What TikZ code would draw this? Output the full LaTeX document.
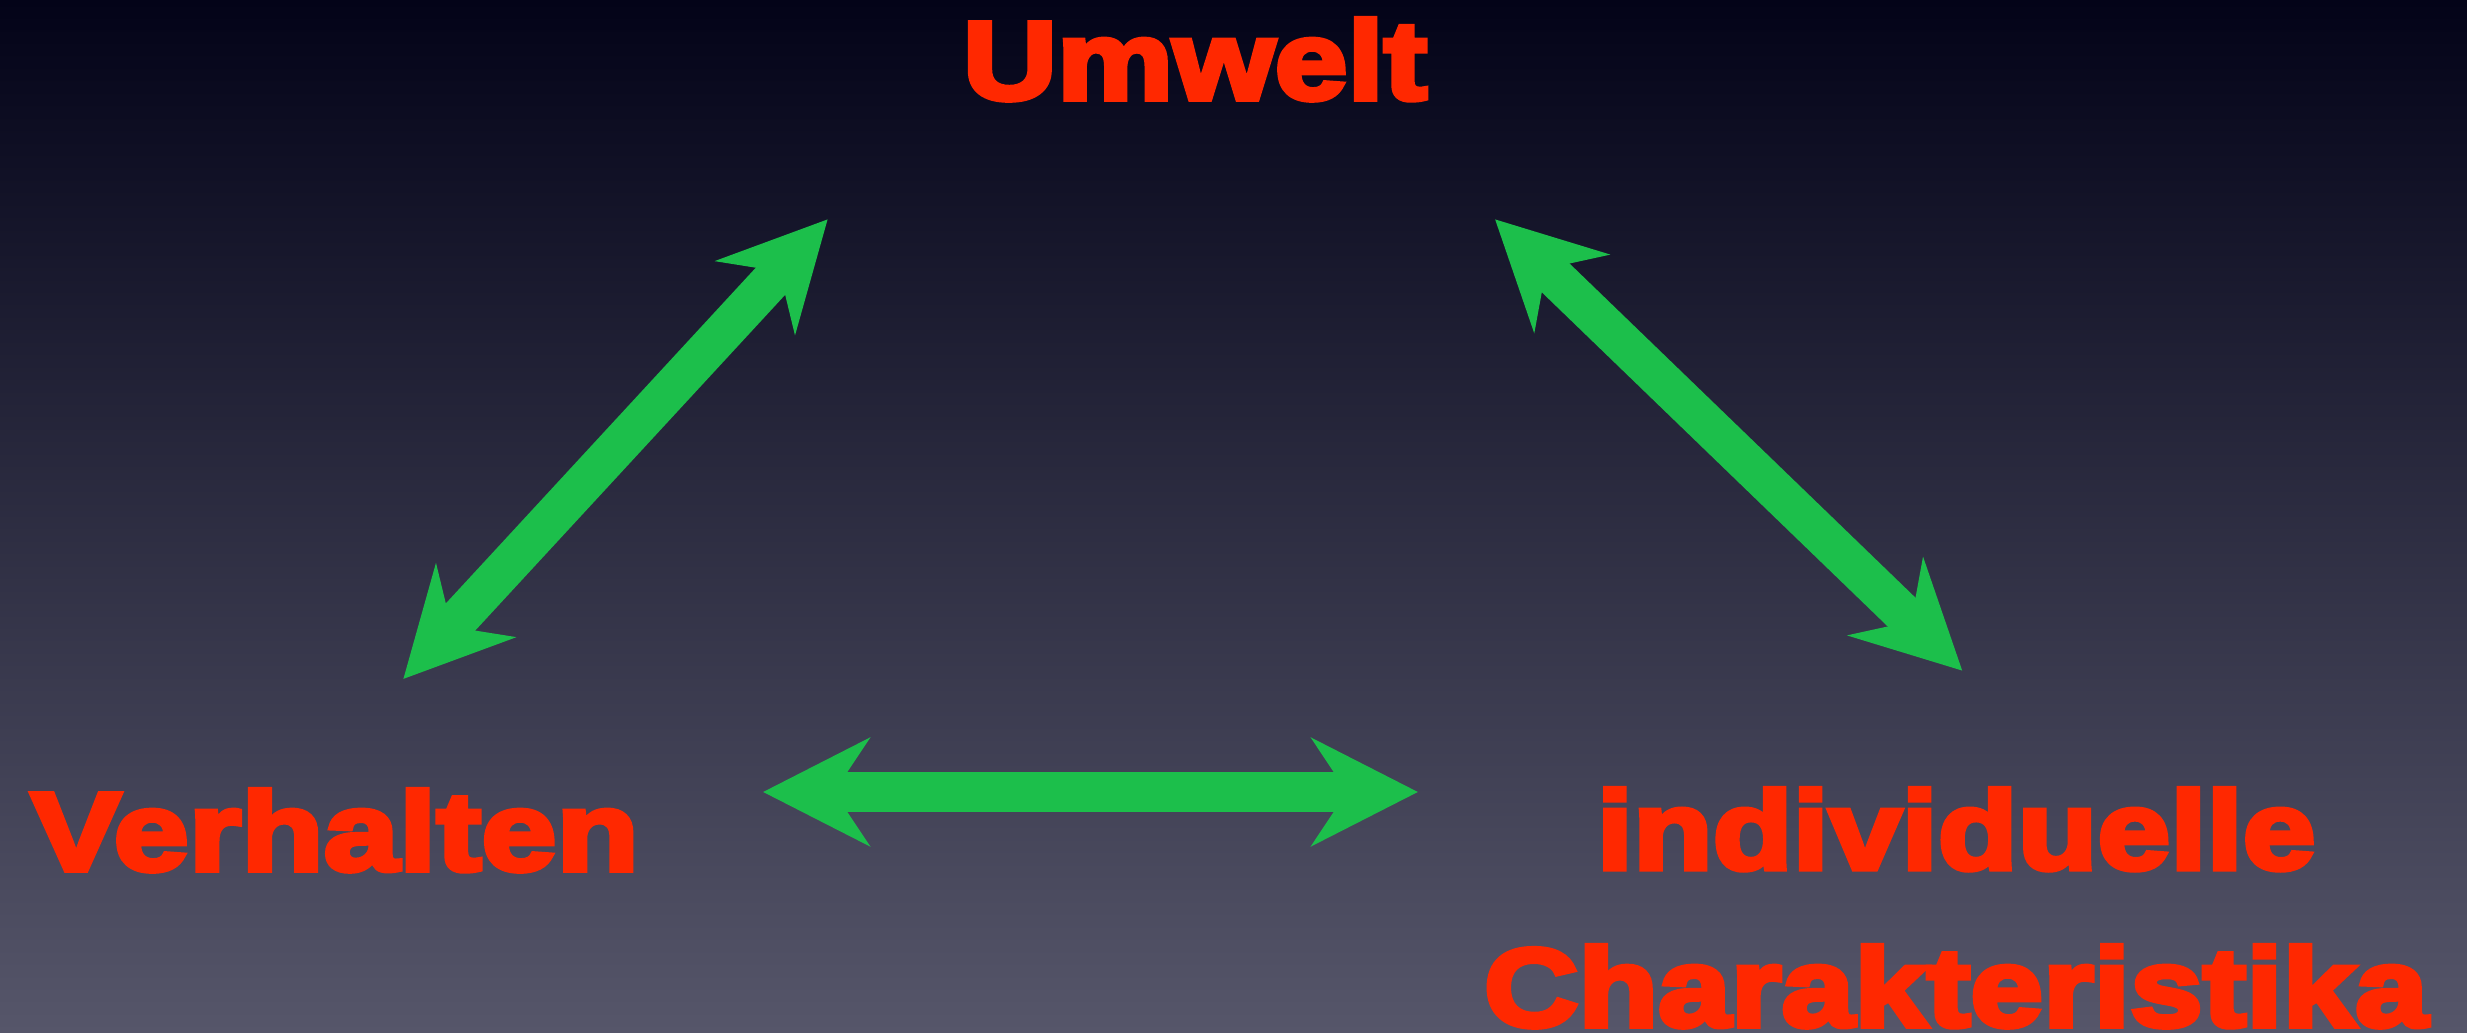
\documentclass[tikz,border=0pt]{standalone}
\usepackage{fontspec}
\usepackage{tikz}
\usetikzlibrary{arrows.meta,positioning}
\newfontfamily\heavyfont[FakeStretch=1.18,FakeBold=5]{Liberation Sans Bold}
\definecolor{bgtop}{RGB}{3,3,24}
\definecolor{bgbottom}{RGB}{86,86,106}
\definecolor{labelred}{RGB}{255,40,0}
\definecolor{arrowgreen}{RGB}{28,191,75}

\begin{document}
\begin{tikzpicture}[>={Stealth[length=10.6mm,width=10.7mm,inset=3.5mm]},
    lbl/.style={text=labelred, inner sep=0pt, anchor=base, align=center,
      font=\heavyfont\fontsize{31.5pt}{44.7pt}\selectfont},
    twoway/.style={<->, draw=arrowgreen, line width=4mm}]
  \shade[top color=bgtop, bottom color=bgbottom] (0,0) rectangle (24.67,10.33);
  \useasboundingbox (0,0) rectangle (24.67,10.33);
  % the three labels
  \node[lbl] (umwelt) at (11.95,9.34) {Umwelt};
  \node[lbl, font=\heavyfont\addfontfeature{FakeStretch=1.22}\fontsize{31.5pt}{44.7pt}\selectfont]
    (verhalten) at (3.35,1.63) {Verhalten};
  \node[lbl] (indiv) at (19.56,0.07) {individuelle\\Charakteristika};
  % arrow ends
  \coordinate (vu1) at (4.033,3.54);
  \coordinate (vu2) at (8.277,8.137);
  \coordinate (ui1) at (14.95,8.137);
  \coordinate (ui2) at (19.623,3.623);
  \coordinate (vi1) at (7.63,2.41);
  \coordinate (vi2) at (14.18,2.41);
  \draw[twoway] (vu1) -- (vu2);
  \draw[twoway] (ui1) -- (ui2);
  \draw[twoway] (vi1) -- (vi2);
\end{tikzpicture}
\end{document}
